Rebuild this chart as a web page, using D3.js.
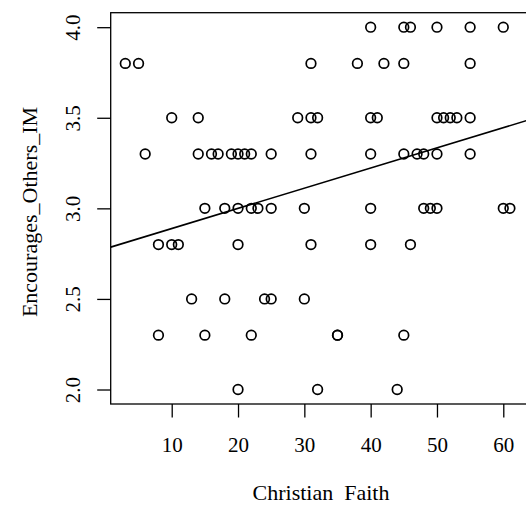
<!DOCTYPE html>
<html><head><meta charset="utf-8">
<script src="https://cdn.jsdelivr.net/npm/d3@7"></script>
<style>body{margin:0;background:#fff}svg{display:block}</style>
</head><body>
<svg id="c" width="526" height="506"></svg>
<script>
// Data
const faith = [
  40,45,46,50,55,60,
  3,5,31,38,42,45,55,
  10,14,29,31,32,40,41,50,51,52,53,55,
  6,14,16,17,19,20,21,22,25,31,40,45,47,48,50,55,
  15,18,20,22,23,25,30,40,48,49,50,60,61,
  8,10,11,20,31,40,46,
  13,18,24,25,30,
  8,15,22,35,35,45,
  20,32,44
];
const encourages = [
  4.0,4.0,4.0,4.0,4.0,4.0,
  3.8,3.8,3.8,3.8,3.8,3.8,3.8,
  3.5,3.5,3.5,3.5,3.5,3.5,3.5,3.5,3.5,3.5,3.5,3.5,
  3.3,3.3,3.3,3.3,3.3,3.3,3.3,3.3,3.3,3.3,3.3,3.3,3.3,3.3,3.3,3.3,
  3.0,3.0,3.0,3.0,3.0,3.0,3.0,3.0,3.0,3.0,3.0,3.0,3.0,
  2.8,2.8,2.8,2.8,2.8,2.8,2.8,
  2.5,2.5,2.5,2.5,2.5,
  2.3,2.3,2.3,2.3,2.3,2.3,
  2.0,2.0,2.0
];
const xTicks = [10,20,30,40,50,60];
const yTicks = [2.0,2.5,3.0,3.5,4.0];
const fitLine = {intercept: 2.777, slope: 0.01114};

const svg = d3.select("#c");
const L = 110.7, R = 526.5, T = 12.7, B = 404;
const x = d3.scaleLinear().domain([0.8, 63.5]).range([L, R]);
const y = d3.scaleLinear().domain([1.92, 4.08]).range([B, T]);
const font = "'Liberation Serif','Times New Roman',serif";

svg.append("defs").append("clipPath").attr("id","clip")
  .append("rect").attr("x",L).attr("y",T).attr("width",R-L).attr("height",B-T);

// box
svg.append("rect").attr("x",L).attr("y",T).attr("width",R-L+2).attr("height",B-T)
  .attr("fill","none").attr("stroke","#000").attr("stroke-width",1.3);

// x axis
const xa = svg.append("g").attr("transform",`translate(0,${B})`)
  .call(d3.axisBottom(x).tickValues(xTicks).tickSize(13.5).tickPadding(0).tickFormat(d3.format("d")));
xa.select(".domain").remove();
xa.selectAll("line").attr("stroke","#000").attr("stroke-width",1.3);
xa.selectAll("text").attr("font-family",font).attr("font-size",21).attr("fill","#000")
  .attr("y",48).attr("dy",0);

// y axis
const ya = svg.append("g").attr("transform",`translate(${L},0)`)
  .call(d3.axisLeft(y).tickValues(yTicks).tickSize(13.5).tickFormat(d3.format(".1f")));
ya.select(".domain").remove();
ya.selectAll("line").attr("stroke","#000").attr("stroke-width",1.3);
ya.selectAll("text").attr("font-family",font).attr("font-size",21).attr("fill","#000")
  .attr("x",null).attr("dy",null).attr("text-anchor","middle")
  .attr("transform",`translate(${80-L},0) rotate(-90)`);

// regression line
svg.append("line").attr("clip-path","url(#clip)")
  .attr("x1",x(x.domain()[0])).attr("y1",y(fitLine.intercept+fitLine.slope*x.domain()[0]))
  .attr("x2",x(x.domain()[1])).attr("y2",y(fitLine.intercept+fitLine.slope*x.domain()[1]))
  .attr("stroke","#000").attr("stroke-width",1.6);

// points
svg.append("g").selectAll("circle").data(faith.map((f,i)=>[f,encourages[i]])).join("circle")
  .attr("cx",d=>x(d[0])).attr("cy",d=>y(d[1])).attr("r",4.8)
  .attr("fill","none").attr("stroke","#000").attr("stroke-width",1.7);

// labels
svg.append("text").attr("x",321).attr("y",500).attr("text-anchor","middle")
  .attr("font-family",font).attr("font-size",22).style("white-space","pre")
  .text("Christian  Faith");
svg.append("text").attr("transform",`translate(37,212) rotate(-90)`)
  .attr("text-anchor","middle").attr("font-family",font).attr("font-size",22)
  .text("Encourages_Others_IM");
</script>
</body></html>
